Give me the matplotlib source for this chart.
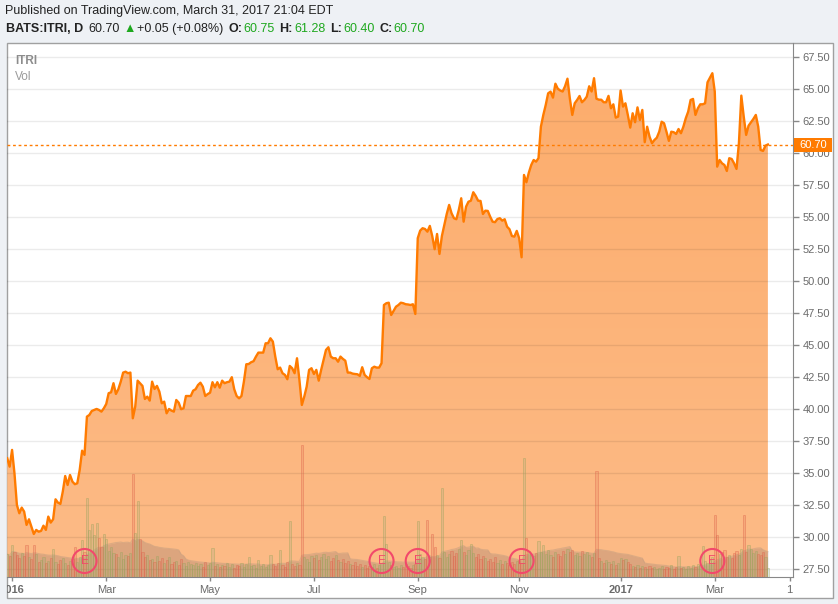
import numpy as np
import pandas as pd
import matplotlib
matplotlib.use('Agg')
import matplotlib.pyplot as plt
from matplotlib.patches import Rectangle
from matplotlib.colors import LinearSegmentedColormap
from matplotlib.transforms import Bbox, TransformedBbox

plt.rcParams['font.family'] = ['Liberation Sans', 'DejaVu Sans']

# trading calendar (NYSE holidays inside the range)
first_day = '2015-12-30'
last_day = '2017-03-31'
holidays = ['2016-01-01', '2016-01-18', '2016-02-15', '2016-03-25', '2016-05-30',
            '2016-07-04', '2016-09-05', '2016-11-24', '2016-12-26',
            '2017-01-02', '2017-01-16', '2017-02-20']

# daily close, one value per trading day
close = [
    36.19, 35.53, 36.84, 35.00, 32.54, 31.89, 32.33, 32.02, 30.98, 31.42,
    30.84, 30.27, 30.59, 30.45, 30.51, 30.92, 30.59, 31.63, 31.16, 31.42,
    32.98, 32.72, 32.62, 33.58, 34.80, 34.10, 34.88, 34.36, 34.16, 34.23,
    35.27, 36.78, 36.45, 39.44, 39.57, 39.88, 39.96, 40.04, 39.96, 39.83,
    40.09, 40.43, 41.27, 41.34, 42.05, 41.21, 41.58, 42.17, 42.88, 42.95,
    42.83, 42.88,
    39.31, 40.22, 42.25, 42.05, 41.84, 40.82, 41.00, 40.69, 42.17, 41.60,
    41.84, 41.39, 40.48, 40.61, 39.70, 40.04, 39.91, 39.83, 40.74, 40.53,
    40.02, 40.09, 41.05, 41.05, 41.05, 41.47, 41.58, 41.91, 42.09, 41.78,
    41.05, 41.20, 41.31, 42.13, 41.73, 42.13, 41.70, 42.25, 42.05, 42.13,
    42.17, 42.52, 41.58, 41.05, 40.87, 41.05, 42.17, 43.53, 43.55, 43.69,
    43.77, 44.13, 44.44, 44.44, 44.44, 45.17, 45.17, 45.56, 45.30,
    44.13, 43.14, 43.27, 42.83, 42.70, 42.36, 43.40, 43.22, 42.83, 44.00,
    42.30, 40.35, 41.00, 41.78, 43.09, 43.22, 42.77, 43.09, 42.25, 43.09,
    43.87, 44.65, 44.86, 44.13, 44.00, 44.00, 43.73, 44.13, 43.95, 43.81,
    42.88, 42.88, 42.80, 42.77, 42.75, 42.62, 43.30, 42.70, 42.52, 42.38,
    43.22, 43.34, 43.27, 43.27, 43.61, 48.16, 48.30, 48.34, 47.38, 47.70,
    48.03, 48.16, 48.34, 48.30, 48.22, 48.20, 48.16, 48.22, 47.46,
    53.38, 53.97, 54.16, 54.10, 53.89, 54.34, 53.55, 52.52, 53.71, 52.15,
    53.55, 54.41, 55.27, 55.98, 55.33, 54.94, 54.86, 55.59, 56.50, 54.67,
    55.84, 56.23, 56.31, 56.97, 56.68, 56.31, 56.29, 55.27, 55.53, 55.51,
    55.06, 54.67, 54.63, 54.88, 54.94, 54.75, 54.86, 54.28, 54.08, 53.55,
    53.50, 53.95, 53.38, 51.89,
    58.32, 57.75, 58.50, 59.10, 59.49, 59.36, 59.63, 62.09, 63.01, 63.79,
    64.70, 64.83, 64.36, 65.45, 65.06, 64.92, 64.84, 65.25, 65.84, 64.28,
    63.01, 63.92, 64.18, 64.49, 64.00, 64.18, 64.44, 65.25, 64.84, 65.88,
    64.28, 64.20, 64.20, 64.00, 64.00, 64.50, 63.53, 63.84, 62.80, 62.88,
    64.92, 63.66, 63.92, 63.01, 62.02, 63.14, 62.44, 63.60, 62.62, 63.40,
    60.88, 62.09, 61.31, 60.80, 61.05, 61.23, 61.70, 62.48, 62.36, 61.70,
    60.98, 61.70, 61.66, 61.52, 61.91, 61.58, 62.09, 62.75, 63.27, 64.18,
    64.26, 63.01, 63.53, 63.84, 63.84, 63.92, 65.56, 65.92, 66.27, 64.83,
    58.97, 59.49, 59.23, 59.10, 58.63, 59.63, 59.57, 59.23, 58.79, 60.80,
    64.52, 62.88, 61.45, 62.17, 62.44, 62.70, 63.01, 62.09, 60.27, 60.20,
    60.61, 60.70,
]

# daily volume, thousands of shares
volume = [
    230, 210, 320, 250, 220, 190, 240, 210, 320, 200,
    180, 320, 230, 150, 170, 200, 140, 160, 190, 280,
    150, 130, 170, 190, 140, 120, 160, 180, 300, 150,
    200, 370, 250, 790, 470, 530, 420, 540, 390, 300,
    430, 380, 260, 300, 240, 230, 200, 250, 180, 220,
    210, 240, 1030, 440, 760, 380, 250, 200, 220, 170,
    180, 150, 210, 160, 190, 140, 170, 200, 130, 150,
    160, 120, 180, 140, 110, 150, 130, 120, 140, 110,
    130, 100, 150, 120, 140, 290, 110, 130, 100, 120,
    110, 140, 100, 130, 90, 120, 110, 140, 100, 130,
    200, 110, 120, 90, 170, 110, 130, 100, 120, 220,
    130, 110, 140, 270, 120, 100, 150, 560, 130, 110,
    140, 120, 1320, 200, 180, 150, 210, 190, 220, 170,
    200, 230, 180, 210, 160, 190, 220, 170, 150, 180,
    140, 160, 130, 120, 150, 110, 130, 100, 120, 90,
    110, 100, 130, 90, 120, 140, 610, 330, 150, 120,
    100, 110, 90, 120, 100, 130, 110, 90, 120, 130,
    560, 230, 200, 180, 570, 200, 430, 300, 220, 190,
    890, 250, 200, 230, 260, 210, 240, 280, 370, 250,
    220, 270, 330, 240, 200, 230, 180, 210, 190, 160,
    180, 150, 200, 140, 170, 130, 160, 140, 120, 150,
    130, 160, 170, 140, 1190, 390, 260, 230, 210, 240,
    360, 250, 320, 230, 270, 220, 200, 250, 230, 210,
    260, 230, 280, 250, 270, 220, 240, 210, 260, 230,
    250, 220, 200, 240, 1060, 190, 160, 140, 170, 150,
    130, 160, 120, 140, 190, 170, 180, 150, 130, 110,
    100, 120, 90, 110, 100, 80, 110, 90, 100, 80,
    90, 110, 80, 100, 90, 120, 80, 100, 210, 90,
    100, 80, 110, 90, 120, 100, 130, 120, 310, 160,
    140, 170, 200, 620, 420, 230, 250, 270, 200, 220,
    190, 240, 260, 220, 280, 620, 250, 320, 280, 240,
    260, 230, 220, 250, 200, 90,
]

earnings = ['2016-02-17', '2016-08-11', '2016-09-01', '2016-11-02', '2017-02-28']
tick_months = ['2016-01', '2016-03', '2016-05', '2016-07', '2016-09', '2016-11', '2017-01', '2017-03']
tick_labels = ['2016', 'Mar', 'May', 'Jul', 'Sep', 'Nov', '2017', 'Mar']
price_ticks = np.arange(27.5, 67.6, 2.5)
last_price = 60.70

dates = pd.bdate_range(first_day, last_day, freq='C', holidays=holidays)
x = np.arange(len(dates))
close = np.array(close)
volume = np.array(volume)
vol_ma = pd.Series(volume).rolling(20, min_periods=1).mean().values

months = dates.strftime('%Y-%m')
tick_pos = [int(np.argmax(months == m)) for m in tick_months]
tick_pos.append(len(dates) + 8)
tick_labels = tick_labels + ['1']
earn_pos = [dates.get_loc(pd.Timestamp(d)) for d in earnings]

W, H = 838, 604
fig = plt.figure(figsize=(W / 100, H / 100), dpi=100, facecolor='#eef1f5')


def fx(px):
    return px / W


def fy(py):
    return 1 - py / H


# white chart panel with border, behind the axes
fig.patches.append(Rectangle((fx(6.5), fy(597.5)), fx(832.5) - fx(6.5), fy(42.5) - fy(597.5),
                             transform=fig.transFigure, facecolor='white',
                             edgecolor='#a0a0a0', lw=1, zorder=-5))

ax = fig.add_axes([fx(7), fy(577), fx(793) - fx(7), fy(43) - fy(577)])
ax.set_facecolor('none')
vax = ax.twinx()   # volume pane overlaid at the bottom
ymin, ymax = 26.91, 68.63
xlim = (-0.1, 325.4)

# area under the price line, soft vertical gradient
area = ax.fill_between(x, close, ymin, color='none', lw=0)
grad = np.linspace(0, 1, 256).reshape(-1, 1)
cmap = LinearSegmentedColormap.from_list('area', ['#fcbb87', '#fdac6b'])
im = ax.imshow(grad, extent=[x[0], x[-1], ymin, ymax], origin='lower',
               aspect='auto', cmap=cmap, zorder=1, interpolation='bilinear')
im.set_clip_path(area.get_paths()[0], transform=ax.transData)
ax.set_xlim(*xlim)
ax.set_ylim(ymin, ymax)

for p in price_ticks:
    ax.axhline(p, color='black', alpha=0.08, lw=1, zorder=2)
ax.plot(x, close, color='#ff7b00', lw=1.7, zorder=4, solid_joinstyle='round')

ax.yaxis.tick_right()
ax.set_yticks(price_ticks)
ax.set_yticklabels(['%.2f' % p for p in price_ticks])
ax.set_xticks(tick_pos)
ax.set_xticklabels(tick_labels)
ax.tick_params(axis='y', direction='out', length=4, width=1, color='#888888',
               labelcolor='#6b6b6b', labelsize=8, pad=3)
ax.tick_params(axis='x', direction='out', length=3, width=1, color='#888888',
               labelcolor='#6b6b6b', labelsize=8, pad=3)
for lab in ax.get_xticklabels():
    if lab.get_text() in ('2016', '2017'):
        lab.set_fontweight('bold')
# the first label is cut by the left edge of the panel
clip = TransformedBbox(Bbox([[fx(7), 0], [1, 1]]), fig.transFigure)
first = ax.get_xticklabels()[0]
first.set_clip_box(clip)
first.set_clip_on(True)

for s in ('left', 'top'):
    ax.spines[s].set_visible(False)
for s in ('right', 'bottom'):
    ax.spines[s].set_color('#888888')

vax.set_ylim(0, 5340)
vax.axis('off')
up = np.r_[True, close[1:] >= close[:-1]]
face = [(0.42, 0.65, 0.51, 0.16) if u else (0.84, 0.33, 0.26, 0.16) for u in up]
edge = [(0.62, 0.64, 0.35, 0.45) if u else (0.88, 0.40, 0.30, 0.45) for u in up]
vax.bar(x, volume, width=0.9, color=face, edgecolor=edge, lw=0.6, zorder=2)
vax.fill_between(x, vol_ma, 0, color='#5e5462', alpha=0.2, lw=0, zorder=1)
vax.plot(x, vol_ma, color='#c9a080', alpha=0.6, lw=0.8, zorder=1)
vax.scatter(earn_pos, [160] * len(earn_pos), s=300, facecolor='none',
            edgecolor='#f2496b', linewidths=1.5, zorder=5)
for p in earn_pos:
    vax.text(p, 160, 'E', color='#f2496b', fontsize=8.5, ha='center', va='center', zorder=6)
# dotted last price line above everything
vax.axhline(5340 * (last_price - ymin) / (ymax - ymin), color='#ff7b00', lw=1,
            ls=(0, (2, 2)), zorder=7)

# last price tag on the price scale
fig.patches.append(Rectangle((fx(794), fy(151.5)), fx(832) - fx(794), 13 / H,
                             transform=fig.transFigure, facecolor='#ff7b00',
                             edgecolor='none', zorder=10))
fig.text(fx(813), fy(145), '%.2f' % last_price, color='white', fontsize=8,
         ha='center', va='center', zorder=11)

# legend inside the chart
fig.text(fx(15), fy(61), 'ITRI', color='#8c8c8c', fontsize=8.5, fontweight='bold', va='center')
fig.text(fx(15), fy(77), 'Vol', color='#9a9a9a', fontsize=8.5, va='center')

# header
green = '#1ea81e'
fig.text(fx(5), fy(11), 'Published on TradingView.com, March 31, 2017 21:04 EDT',
         color='#222222', fontsize=9, va='center')
row = [('BATS:ITRI, D', 0, 'bold', '#222222'), ('60.70', 5, 'normal', '#222222'),
       ('▲', 4, 'normal', green), ('+0.05 (+0.08%)', 1, 'normal', '#222222'),
       ('O:', 5, 'bold', '#222222'), ('60.75', 1, 'normal', green),
       ('H:', 5, 'bold', '#222222'), ('61.28', 1, 'normal', green),
       ('L:', 5, 'bold', '#222222'), ('60.40', 1, 'normal', green),
       ('C:', 5, 'bold', '#222222'), ('60.70', 1, 'normal', green)]
renderer = fig.canvas.get_renderer()
cur = 6
for txt, gap, wt, col in row:
    t = fig.text(fx(cur + gap), fy(29), txt, color=col, fontsize=9, fontweight=wt, va='center')
    cur = cur + gap + t.get_window_extent(renderer).width

plt.savefig('out.png', dpi=100, facecolor=fig.get_facecolor())
